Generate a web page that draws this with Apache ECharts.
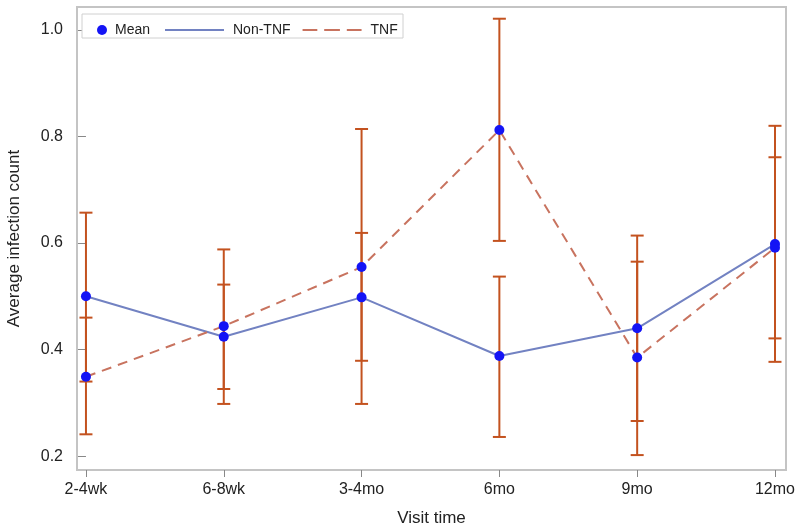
<!DOCTYPE html>
<html>
<head>
<meta charset="utf-8">
<script src="https://cdn.jsdelivr.net/npm/echarts@6/dist/echarts.min.js"></script>
<style>html,body{margin:0;padding:0;background:#fff}#c{width:800px;height:532px}</style>
</head>
<body>
<div id="c"></div>
<script>
var categories = ['2-4wk', '6-8wk', '3-4mo', '6mo', '9mo', '12mo'];
var nonTnfMean  = [0.500, 0.424, 0.498, 0.388, 0.440, 0.598];
var nonTnfLower = [0.340, 0.326, 0.379, 0.236, 0.266, 0.377];
var nonTnfUpper = [0.657, 0.522, 0.619, 0.537, 0.614, 0.820];
var tnfMean  = [0.349, 0.444, 0.555, 0.812, 0.385, 0.591];
var tnfLower = [0.241, 0.298, 0.298, 0.604, 0.202, 0.421];
var tnfUpper = [0.460, 0.588, 0.814, 1.021, 0.565, 0.761];
var yTicks = [0.2, 0.4, 0.6, 0.8, 1.0];

var FONT = 'Liberation Sans, Arial, sans-serif';
var idx = categories.map(function (c, i) { return i; });

function pts(arr) { return arr.map(function (v, i) { return [i, v]; }); }
var errData = [];
categories.forEach(function (c, i) {
  errData.push([i, nonTnfLower[i], nonTnfUpper[i]]);
  errData.push([i, tnfLower[i], tnfUpper[i]]);
});
var meanData = pts(nonTnfMean).concat(pts(tnfMean));

var chart = echarts.init(document.getElementById('c'), null, {renderer: 'canvas'});
chart.setOption({
  animation: false,
  backgroundColor: '#ffffff',
  grid: {left: 77, right: 14, top: 7, bottom: 62, show: true, borderColor: '#c4c4c4', borderWidth: 2,
    containLabel: false, outerBoundsMode: 'none'},
  graphic: [{
    type: 'rect', z: 100,
    shape: {x: 82, y: 14, width: 321, height: 24},
    style: {fill: '#ffffff', stroke: '#d0d0d0', lineWidth: 1}
  }],
  legend: [{
    z: 101,
    left: 92, top: 18, itemWidth: 10, itemHeight: 10,
    data: [{name: 'Mean', icon: 'circle'}],
    textStyle: {fontFamily: FONT, fontSize: 14, color: '#222', padding: [0, 0, 0, 3]}
  }, {
    z: 101,
    left: 160, top: 18, itemWidth: 59, itemHeight: 2, itemGap: 12,
    data: [
      {name: 'Non-TNF', icon: 'rect'},
      {name: 'TNF', icon: 'path://M0,0h15v2h-15z M22,0h16v2h-16z M45,0h15v2h-15z'}
    ],
    textStyle: {fontFamily: FONT, fontSize: 14, color: '#222', padding: [0, 0, 0, 4]}
  }],
  xAxis: {
    type: 'value', min: -0.065, max: 5.08,
    name: 'Visit time', nameLocation: 'middle', nameGap: 40,
    nameTextStyle: {fontFamily: FONT, fontSize: 17, color: '#222'},
    axisLine: {show: false},
    axisTick: {show: true, length: 7, lineStyle: {color: '#888'}, customValues: idx},
    axisLabel: {customValues: idx, fontFamily: FONT, fontSize: 16, color: '#222', margin: 12,
      formatter: function (v) { return categories[Math.round(v)]; }},
    splitLine: {show: false}
  },
  yAxis: {
    type: 'value', min: 0.174, max: 1.043,
    name: 'Average infection count', nameLocation: 'middle', nameGap: 54,
    nameTextStyle: {fontFamily: FONT, fontSize: 17, color: '#222'},
    axisLine: {show: false},
    axisTick: {show: true, length: 8, lineStyle: {color: '#888'}, customValues: yTicks},
    axisLabel: {customValues: yTicks, fontFamily: FONT, fontSize: 16, color: '#222', margin: 14,
      formatter: function (v) { return v.toFixed(1); }},
    splitLine: {show: false}
  },
  series: [{
    type: 'custom', name: 'err', z: 1,
    data: errData,
    renderItem: function (params, api) {
      var x = api.value(0);
      var lo = api.coord([x, api.value(1)]);
      var hi = api.coord([x, api.value(2)]);
      var w = 6.5;
      var st = {stroke: '#c3521f', lineWidth: 2};
      return {type: 'group', children: [
        {type: 'line', shape: {x1: lo[0], y1: lo[1], x2: hi[0], y2: hi[1]}, style: st},
        {type: 'line', shape: {x1: lo[0] - w, y1: lo[1], x2: lo[0] + w, y2: lo[1]}, style: st},
        {type: 'line', shape: {x1: hi[0] - w, y1: hi[1], x2: hi[0] + w, y2: hi[1]}, style: st}
      ]};
    }
  }, {
    type: 'line', name: 'Non-TNF', z: 2, symbol: 'none',
    data: pts(nonTnfMean),
    lineStyle: {color: '#7282c2', width: 2},
    itemStyle: {color: '#7282c2'}
  }, {
    type: 'line', name: 'TNF', z: 2, symbol: 'none',
    data: pts(tnfMean),
    lineStyle: {color: '#c8735f', width: 2, type: [10, 7]},
    itemStyle: {color: '#c8735f'}
  }, {
    type: 'scatter', name: 'Mean', z: 3, symbol: 'circle', symbolSize: 10,
    data: meanData,
    itemStyle: {color: '#1414f5', opacity: 1}
  }]
});
</script>
</body>
</html>
